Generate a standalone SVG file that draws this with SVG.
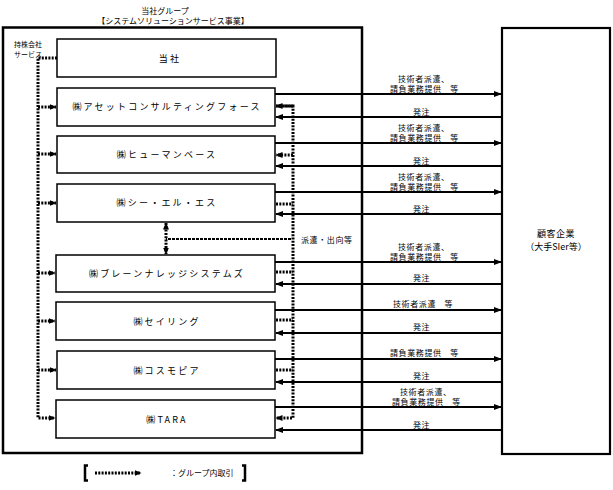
<svg xmlns="http://www.w3.org/2000/svg" width="613" height="490" viewBox="0 0 613 490">
<defs>
<style>
text{font-family:"Noto Sans CJK JP","Noto Sans",sans-serif;fill:#000}
.box{fill:#fff;stroke:#000;stroke-width:1.5}
.frame{fill:none;stroke:#000;stroke-width:2.5}
.cust{fill:#fff;stroke:#000;stroke-width:2.2}
.lbl{font-size:9px;letter-spacing:2.2px;text-anchor:middle}
.al{font-size:8px;letter-spacing:0.6px}
.sol{fill:none;stroke:#000;stroke-width:2}
.dot{fill:none;stroke:#000;stroke-width:3;stroke-dasharray:2 1.3}
.dash{fill:none;stroke:#000;stroke-width:2.2;stroke-dasharray:3 1}
.small{font-size:7px}
</style>
<marker id="ah" viewBox="0 0 8 6" refX="7" refY="3" markerWidth="8" markerHeight="6" markerUnits="userSpaceOnUse" orient="auto"><path d="M0,0 L8,3 L0,6 z" fill="#000"/></marker>
<marker id="ad" viewBox="0 0 7 6" refX="6.5" refY="3" markerWidth="7" markerHeight="6" markerUnits="userSpaceOnUse" orient="auto-start-reverse"><path d="M0,0 L7,3 L0,6 z" fill="#000"/></marker>
</defs>

<text x="165" y="14" font-size="8" text-anchor="middle">当社グループ</text>
<text x="173" y="24" font-size="8" text-anchor="middle">【システムソリューションサービス事業】</text>

<rect class="frame" x="3" y="27.5" width="359" height="425.5"/>

<g id="customer"><rect class="cust" x="502" y="28" width="108" height="426"/>
<text x="556" y="237" font-size="9" text-anchor="middle" letter-spacing="0.5">顧客企業</text>
<text x="556" y="250" font-size="9" text-anchor="middle">（大手SIer等）</text></g>

<g id="holding-label"><text class="small" x="14" y="47">持株会社</text><text class="small" x="14" y="57">サービス</text></g>

<g id="tousha"><rect class="box" x="57" y="39" width="219" height="38"/><text class="lbl" x="170" y="62" font-size="9.5" letter-spacing="3px">当社</text></g>
<g id="asset"><rect class="box" x="57" y="88" width="218" height="38"/><text class="lbl" x="167" y="110">㈱アセットコンサルティングフォース</text></g>
<g id="humanbase"><rect class="box" x="57" y="136" width="218" height="37"/><text class="lbl" x="167" y="158">㈱ヒューマンベース</text></g>
<g id="cls"><rect class="box" x="57" y="184" width="218" height="38"/><text class="lbl" x="167" y="206">㈱シー・エル・エス</text></g>
<g id="brain"><rect class="box" x="56" y="255" width="219" height="37"/><text class="lbl" x="167" y="277">㈱ブレーンナレッジシステムズ</text></g>
<g id="sailing"><rect class="box" x="56" y="302" width="219" height="38"/><text class="lbl" x="167" y="325">㈱セイリング</text></g>
<g id="cosmopia"><rect class="box" x="57" y="351" width="218" height="38"/><text class="lbl" x="167" y="374">㈱コスモピア</text></g>
<g id="tara"><rect class="box" x="56" y="400" width="219" height="38"/><text class="lbl" x="167" y="423">㈱TARA</text></g>

<g id="connectors">
<path class="sol" d="M275,94 H501" marker-end="url(#ah)"/>
<path class="sol" d="M502,117 H276" marker-end="url(#ah)"/>
<path class="sol" d="M275,143 H501" marker-end="url(#ah)"/>
<path class="sol" d="M502,166 H276" marker-end="url(#ah)"/>
<path class="sol" d="M275,192 H501" marker-end="url(#ah)"/>
<path class="sol" d="M502,214 H276" marker-end="url(#ah)"/>
<path class="sol" d="M275,262 H501" marker-end="url(#ah)"/>
<path class="sol" d="M502,284 H276" marker-end="url(#ah)"/>
<path class="sol" d="M275,310 H501" marker-end="url(#ah)"/>
<path class="sol" d="M502,333 H276" marker-end="url(#ah)"/>
<path class="sol" d="M275,359 H501" marker-end="url(#ah)"/>
<path class="sol" d="M502,382 H276" marker-end="url(#ah)"/>
<path class="sol" d="M275,407 H501" marker-end="url(#ah)"/>
<path class="sol" d="M502,430 H276" marker-end="url(#ah)"/>

<path class="dot" d="M57,58 H38 V418 H55" marker-end="url(#ad)"/>
<path class="dot" d="M38,107 H56" marker-end="url(#ad)"/>
<path class="dot" d="M38,154 H56" marker-end="url(#ad)"/>
<path class="dot" d="M38,203 H56" marker-end="url(#ad)"/>
<path class="dot" d="M38,273 H55" marker-end="url(#ad)"/>
<path class="dot" d="M38,321 H55" marker-end="url(#ad)"/>
<path class="dot" d="M38,370 H56" marker-end="url(#ad)"/>

<path class="dot" d="M276,106 H293 V418 H276" marker-end="url(#ad)"/>
<path class="dot" d="M293,106 H276" marker-end="url(#ad)"/>
<path class="dot" d="M293,155 H276" marker-end="url(#ad)"/>
<path class="dot" d="M276,204 H293"/>
<path class="dot" d="M276,272 H293"/>
<path class="dot" d="M276,320 H293"/>
<path class="dot" d="M276,370 H293"/>

<path class="dash" d="M291,239 H166"/>
<path class="dot" d="M166,223 V254" stroke-width="2.5" marker-start="url(#ad)" marker-end="url(#ad)"/>

<path class="dot" d="M95,473 H141" marker-end="url(#ad)"/>
</g>

<g id="flow-labels">
<text class="al" x="398" y="82">技術者派遣、</text>
<text class="al" x="390" y="92">請負業務提供　等</text>
<text class="al" x="413" y="115">発注</text>
<text class="al" x="398" y="131">技術者派遣、</text>
<text class="al" x="390" y="141">請負業務提供　等</text>
<text class="al" x="413" y="164">発注</text>
<text class="al" x="398" y="180">技術者派遣、</text>
<text class="al" x="390" y="190">請負業務提供　等</text>
<text class="al" x="413" y="212">発注</text>
<text class="al" x="301" y="243">派遣・出向等</text>
<text class="al" x="398" y="250">技術者派遣、</text>
<text class="al" x="390" y="260">請負業務提供　等</text>
<text class="al" x="413" y="281">発注</text>
<text class="al" x="393" y="307">技術者派遣　等</text>
<text class="al" x="413" y="330">発注</text>
<text class="al" x="390" y="356">請負業務提供　等</text>
<text class="al" x="413" y="379">発注</text>
<text class="al" x="400" y="395">技術者派遣、</text>
<text class="al" x="392" y="405">請負業務提供　等</text>
<text class="al" x="413" y="428">発注</text>
</g>

<g id="legend">
<path d="M88,465.5 H85 V480.5 H88" fill="none" stroke="#000" stroke-width="2.5"/>
<path d="M242,465.5 H245 V480.5 H242" fill="none" stroke="#000" stroke-width="2.5"/>
<text x="170" y="476" font-size="8">：グループ内取引</text>
</g>
</svg>
